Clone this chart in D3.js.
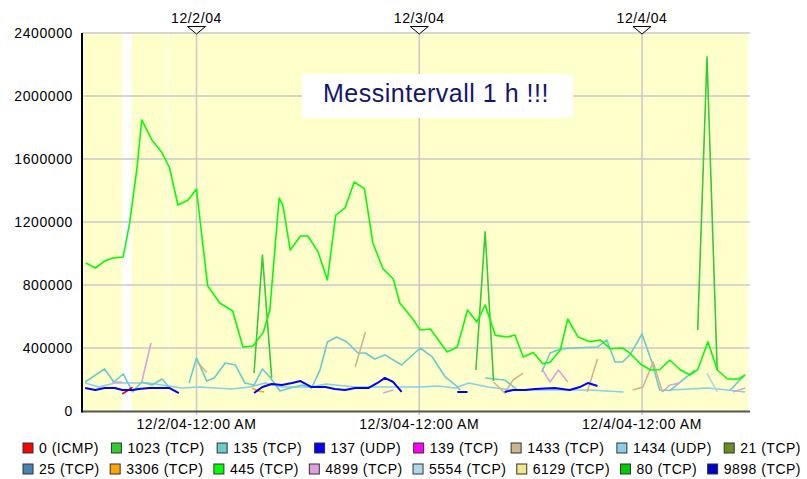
<!DOCTYPE html>
<html>
<head>
<meta charset="utf-8">
<script src="https://cdn.jsdelivr.net/npm/d3@7"></script>
<style>
  body { margin: 0; background: #fff; }
  svg { display: block; font-family: 'Liberation Sans', Arial, sans-serif; }
</style>
</head>
<body>
<svg id="chart" width="807" height="479"></svg>
<script>
// hours counted from 12/1/04 00:00, values in bytes; null breaks the line
const s445 = [[12.1,940000],[13.1,908000],[14.1,952000],[15.0,971000],[16.1,978000],[16.8,1194000],[17.6,1549000],[18.1,1848000],[19.2,1720000],[20.3,1638000],[21.1,1543000],[22.0,1308000],[23.1,1340000],[24.0,1410000],[24.4,1200000],[25.2,795000],[26.5,686000],[27.9,635000],[29.0,406000],[30.1,413000],[31.2,500000],[31.9,640000],[32.9,1352000],[33.3,1308000],[34.1,1022000],[35.2,1111000],[36.0,1111000],[37.1,1010000],[38.1,832000],[39.0,1244000],[40.0,1289000],[41.0,1454000],[42.1,1410000],[43.0,1067000],[44.1,902000],[45.2,838000],[45.9,686000],[47.3,584000],[48.1,514000],[49.2,521000],[51.0,375000],[52.1,406000],[53.2,641000],[54.2,565000],[55.1,673000],[56.2,480000],[57.5,470000],[58.3,483000],[59.2,343000],[60.3,372000],[61.3,300000],[62.1,310000],[63.2,387000],[64.0,584000],[65.1,470000],[66.4,440000],[67.5,451000],[68.6,395000],[69.9,400000],[70.7,368000],[71.8,300000],[72.9,260000],[73.9,262000],[75.0,324000],[76.1,262000],[77.2,229000],[78.0,262000],[79.1,440000],[80.1,262000],[81.2,203000],[82.4,203000],[83.1,229000]];
const s1023 = [[30.2,241000],[31.1,990000],[32.1,210000],[32.2,null],[54.1,260000],[55.1,1137000],[56.0,190000],[56.1,null],[78.0,514000],[79.0,2248000],[80.1,260000]];
const s135 = [[12.0,184000],[14.1,267000],[15.1,184000],[16.1,235000],[17.1,121000],[18.1,184000],[19.2,165000],[20.3,203000],[21.1,146000],[22.0,null],[23.2,178000],[24.0,337000],[25.1,190000],[25.9,210000],[27.1,305000],[28.2,292000],[29.2,178000],[30.2,165000],[31.1,267000],[31.9,216000],[33.0,127000],[34.1,146000],[35.4,165000],[36.4,146000],[37.3,260000],[38.1,438000],[39.1,470000],[40.2,438000],[41.4,368000],[42.2,368000],[43.2,330000],[44.3,356000],[46.1,292000],[48.1,400000],[49.4,343000],[50.8,216000],[51.9,165000],[52.4,133000],[53.0,null],[55.1,210000],[57.2,197000],[58.6,133000],[60.0,null],[61.2,248000],[62.1,368000],[63.2,394000],[64.6,400000],[67.2,406000],[68.2,451000],[69.1,311000],[69.9,311000],[70.7,356000],[72.0,489000],[73.1,305000],[73.9,133000],[75.0,130000],[76.4,197000],[77.7,260000],[79.0,null],[81.5,133000],[83.1,229000]];
const s1434 = [[12.0,178000],[13.5,152000],[15.2,178000],[16.7,178000],[18.9,178000],[22.4,146000],[24.3,152000],[26.0,146000],[27.8,140000],[29.7,152000],[31.4,178000],[33.2,152000],[36.4,152000],[37.9,171000],[41.1,152000],[44.6,152000],[48.1,152000],[50.0,159000],[51.9,146000],[53.3,178000],[55.4,152000],[58.0,133000],[60.5,133000],[63.5,133000],[66.4,133000],[70.0,121000],[72.0,null],[75.0,133000],[77.2,140000],[79.0,146000],[81.2,133000],[83.1,121000]];
const s5554 = [[79.0,241000],[80.1,121000]];
const s137 = [[12.0,146000],[13.1,133000],[14.1,146000],[15.2,146000],[16.0,133000],[17.1,133000],[17.8,140000],[18.9,146000],[20.0,146000],[21.1,146000],[22.1,114000],[23.0,null],[30.2,114000],[31.1,152000],[32.1,171000],[33.2,165000],[34.3,178000],[35.2,190000],[36.4,152000],[37.9,152000],[38.9,140000],[40.0,133000],[41.1,146000],[42.5,146000],[43.5,178000],[44.3,210000],[45.2,184000],[46.1,121000],[47.0,null],[52.1,121000],[53.2,121000],[54.0,null],[57.2,121000],[58.1,133000],[59.4,133000],[60.5,140000],[62.6,146000],[64.2,133000],[65.3,152000],[66.2,178000],[67.2,159000]];
const s3306 = [[30.0,146000],[30.6,127000],[31.3,121000]];
const s0 = [[16.0,108000],[16.5,127000],[17.1,152000]];
const s4899 = [[14.9,184000],[16.0,184000],[17.0,null],[18.1,184000],[19.1,432000],[20.0,null],[44.1,114000],[45.2,133000],[46.0,null],[61.3,260000],[62.1,184000],[63.0,260000],[64.0,184000],[65.0,null],[74.2,121000],[75.0,165000],[76.1,178000],[77.0,null],[81.8,121000],[83.1,146000]];
const s1433 = [[24.1,310000],[25.1,245000],[26.0,null],[41.1,279000],[42.2,502000],[43.0,null],[56.0,184000],[57.2,114000],[58.1,197000],[59.2,241000],[60.0,null],[66.1,121000],[67.2,330000],[68.0,null],[71.0,133000],[72.1,152000],[73.2,311000],[74.2,121000]];

const legendRow1 = ['0 (ICMP)', '1023 (TCP)', '135 (TCP)', '137 (UDP)', '139 (TCP)', '1433 (TCP)', '1434 (UDP)', '21 (TCP)'];
const legendRow2 = ['25 (TCP)', '3306 (TCP)', '445 (TCP)', '4899 (TCP)', '5554 (TCP)', '6129 (TCP)', '80 (TCP)', '9898 (TCP)'];
const colors = {
  '0 (ICMP)': '#ff0000', '1023 (TCP)': '#33cc33', '135 (TCP)': '#66cccc', '137 (UDP)': '#0000ff',
  '139 (TCP)': '#ff00ff', '1433 (TCP)': '#d2b48c', '1434 (UDP)': '#87ceeb', '21 (TCP)': '#6b8e23',
  '25 (TCP)': '#4682b4', '3306 (TCP)': '#ffa500', '445 (TCP)': '#00ff00', '4899 (TCP)': '#dda0dd',
  '5554 (TCP)': '#add8e6', '6129 (TCP)': '#f0e68c', '80 (TCP)': '#00cc00', '9898 (TCP)': '#0000cc',
};

// drawing order: back to front
const series = [
  ['1434 (UDP)', s1434], ['5554 (TCP)', s5554], ['135 (TCP)', s135], ['4899 (TCP)', s4899],
  ['1433 (TCP)', s1433], ['3306 (TCP)', s3306], ['0 (ICMP)', s0], ['137 (UDP)', s137],
  ['1023 (TCP)', s1023], ['445 (TCP)', s445],
];

const yTicks = [0, 400000, 800000, 1200000, 1600000, 2000000, 2400000];
const dayMarks = [2, 3, 4];
const noDataHours = [[16, 17]];
const annotation = 'Messintervall 1 h !!!';

const base = new Date(2004, 11, 1);
const toDate = (h) => new Date(base.getTime() + h * 3600e3);

const svg = d3.select('#chart');
const x = d3.scaleTime().domain([toDate(11.77), toDate(83.42)]).range([83, 748]);
const y = d3.scaleLinear().domain([0, 2400000]).range([411, 33]);

const grid = '#c8c8c8';

svg.append('rect')
  .attr('x', x.range()[0]).attr('y', y(2400000))
  .attr('width', x.range()[1] - x.range()[0]).attr('height', y(0) - y(2400000))
  .attr('fill', '#ffffcc');

svg.selectAll('rect.gap')
  .data(noDataHours)
  .join('rect')
  .attr('class', 'gap')
  .attr('x', (d) => x(toDate(d[0])))
  .attr('y', y(2400000))
  .attr('width', (d) => x(toDate(d[1])) - x(toDate(d[0])))
  .attr('height', y(0) - y(2400000))
  .attr('fill', '#fff');

svg.append('line')
  .attr('x1', x(toDate(21))).attr('x2', x(toDate(21)))
  .attr('y1', y(2400000)).attr('y2', y(0))
  .attr('stroke', '#fff').attr('stroke-width', 1);

svg.selectAll('line.hgrid')
  .data(yTicks.filter((d) => d > 0))
  .join('line')
  .attr('class', 'hgrid')
  .attr('x1', 82).attr('x2', x.range()[1] + 2)
  .attr('y1', (d) => y(d)).attr('y2', (d) => y(d))
  .attr('stroke', grid).attr('stroke-width', 1.5);

const days = dayMarks.map((d) => new Date(2004, 11, d));

svg.selectAll('line.vgrid')
  .data(days)
  .join('line')
  .attr('class', 'vgrid')
  .attr('x1', (d) => x(d)).attr('x2', (d) => x(d))
  .attr('y1', y(2400000)).attr('y2', y(0) + 4)
  .attr('stroke', grid).attr('stroke-width', 1.5);

const line = d3.line()
  .defined((d) => d[1] !== null)
  .x((d) => x(toDate(d[0])))
  .y((d) => y(d[1]));

svg.selectAll('path.series')
  .data(series)
  .join('path')
  .attr('class', 'series')
  .attr('d', (d) => line(d[1]))
  .attr('fill', 'none')
  .attr('stroke', (d) => colors[d[0]])
  .attr('stroke-width', (d) => (d[0] === '137 (UDP)' ? 2 : 1.6))
  .attr('stroke-linejoin', 'round');

// axes
svg.append('line')
  .attr('x1', 82).attr('x2', x.range()[1] + 2)
  .attr('y1', y(0) + 0.5).attr('y2', y(0) + 0.5)
  .attr('stroke', '#555').attr('stroke-width', 2);

svg.append('line')
  .attr('x1', 82).attr('x2', 82)
  .attr('y1', y(2400000)).attr('y2', y(0) + 1.5)
  .attr('stroke', '#000').attr('stroke-width', 2);

const yAxis = svg.append('g')
  .attr('transform', 'translate(73,0)')
  .call(d3.axisLeft(y).tickValues(yTicks).tickSize(0).tickPadding(0).tickFormat(d3.format('d')));
yAxis.select('.domain').remove();
yAxis.selectAll('text')
  .attr('font-size', 14).attr('font-family', "'Liberation Sans', Arial, sans-serif")
  .attr('letter-spacing', 0.6).attr('fill', '#000');

const topFmt = d3.timeFormat('%-m/%-d/%y');
const botFmt = d3.timeFormat('%-m/%-d/%y-%I:%M %p');

svg.selectAll('text.top')
  .data(days)
  .join('text')
  .attr('class', 'top')
  .attr('x', (d) => x(d)).attr('y', 23)
  .attr('text-anchor', 'middle')
  .attr('font-size', 14).attr('letter-spacing', 0.6)
  .text(topFmt);

svg.selectAll('path.marker')
  .data(days)
  .join('path')
  .attr('class', 'marker')
  .attr('d', (d) => `M${x(d) - 9},26.5L${x(d) + 9},26.5L${x(d)},34Z`)
  .attr('fill', '#fff').attr('stroke', '#000').attr('stroke-width', 1);

svg.selectAll('text.bottom')
  .data(days)
  .join('text')
  .attr('class', 'bottom')
  .attr('x', (d) => x(d)).attr('y', 429)
  .attr('text-anchor', 'middle')
  .attr('font-size', 14).attr('letter-spacing', 0.6)
  .text(botFmt);

// annotation box
svg.append('rect')
  .attr('x', 302).attr('y', 74).attr('width', 271).attr('height', 44)
  .attr('fill', '#fff');
svg.append('text')
  .attr('x', 323).attr('y', 102)
  .attr('font-size', 25).attr('letter-spacing', 0.5)
  .attr('fill', '#141470')
  .text(annotation);

// legend, each row spread across the width
function drawLegendRow(items, baseline) {
  const g = svg.append('g');
  const entries = g.selectAll('g')
    .data(items)
    .join('g');
  entries.append('rect')
    .attr('width', 10).attr('height', 10)
    .attr('y', baseline - 10)
    .attr('fill', (d) => colors[d])
    .attr('stroke', '#333').attr('stroke-width', 1);
  entries.append('text')
    .attr('x', 16).attr('y', baseline)
    .attr('font-size', 14).attr('letter-spacing', 0.5)
    .text((d) => d);

  const widths = [];
  entries.each(function () {
    widths.push(16 + d3.select(this).select('text').node().getComputedTextLength());
  });
  const x0 = 23;
  const x1 = 801;
  const gap = (x1 - x0 - d3.sum(widths)) / (items.length - 1);
  let pos = x0;
  entries.attr('transform', (d, i) => {
    const t = `translate(${pos},0)`;
    pos += widths[i] + gap;
    return t;
  });
}

drawLegendRow(legendRow1, 453);
drawLegendRow(legendRow2, 474);
</script>
</body>
</html>
